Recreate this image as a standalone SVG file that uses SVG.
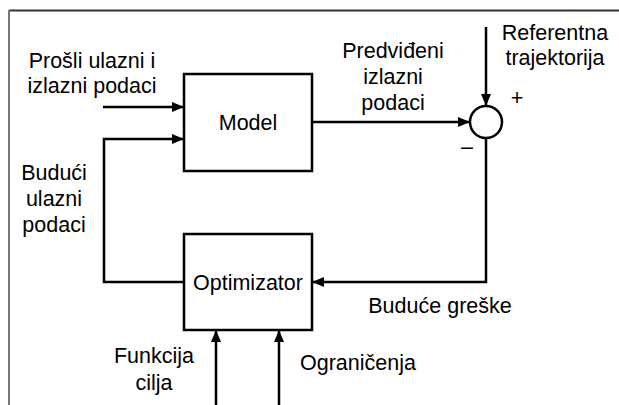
<svg xmlns="http://www.w3.org/2000/svg" width="619" height="405" viewBox="0 0 619 405">
<defs>
<style>
.box{fill:#fff;stroke:#000;stroke-width:2.5}
.ln{fill:none;stroke:#000;stroke-width:2.5}
text{font-family:"Liberation Sans",Arial,sans-serif;font-size:21.5px;fill:#000}
.c{text-anchor:middle}
</style>
<marker id="ah" viewBox="0 0 12 10" refX="12" refY="5" markerWidth="12" markerHeight="10" markerUnits="userSpaceOnUse" orient="auto">
<path d="M0,0 L12,5 L0,10 Z" fill="#000"/>
</marker>
</defs>
<rect width="619" height="405" fill="#fff"/>
<line x1="9" y1="10.5" x2="619" y2="10.5" stroke="#333" stroke-width="2"/>
<line x1="9" y1="10" x2="9" y2="405" stroke="#777" stroke-width="2"/>
<g id="connectors">
<path class="ln" d="M103,107 H184" marker-end="url(#ah)"/>
<path class="ln" d="M184,282 H104 V139 H184" marker-end="url(#ah)"/>
<path class="ln" d="M312,122 H470" marker-end="url(#ah)"/>
<path class="ln" d="M486,27 V106" marker-end="url(#ah)"/>
<path class="ln" d="M486,138 V282 H312" marker-end="url(#ah)"/>
<path class="ln" d="M216,405 V330" marker-end="url(#ah)"/>
<path class="ln" d="M279,405 V330" marker-end="url(#ah)"/>
</g>
<g id="model">
<rect class="box" x="184" y="74" width="128" height="97"/>
<text class="c" x="248" y="130">Model</text>
</g>
<g id="optimizator">
<rect class="box" x="184" y="234" width="128" height="96"/>
<text class="c" x="248" y="290">Optimizator</text>
</g>
<g id="sum">
<circle cx="486" cy="122" r="16" fill="#fff" stroke="#000" stroke-width="2.5"/>
<text class="c" x="517" y="105">+</text>
<text class="c" x="467" y="154">–</text>
</g>
<g id="labels">
<text class="c" x="92" y="68">Prošli ulazni i</text>
<text class="c" x="92" y="93">izlazni podaci</text>
<text class="c" x="393" y="58">Predviđeni</text>
<text class="c" x="393" y="84">izlazni</text>
<text class="c" x="393" y="110">podaci</text>
<text class="c" x="555" y="40">Referentna</text>
<text class="c" x="555" y="65">trajektorija</text>
<text class="c" x="54" y="180">Budući</text>
<text class="c" x="54" y="206">ulazni</text>
<text class="c" x="54" y="232">podaci</text>
<text class="c" x="440" y="313">Buduće greške</text>
<text class="c" x="154" y="363">Funkcija</text>
<text class="c" x="154" y="390">cilja</text>
<text class="c" x="358" y="370">Ograničenja</text>
</g>
</svg>
